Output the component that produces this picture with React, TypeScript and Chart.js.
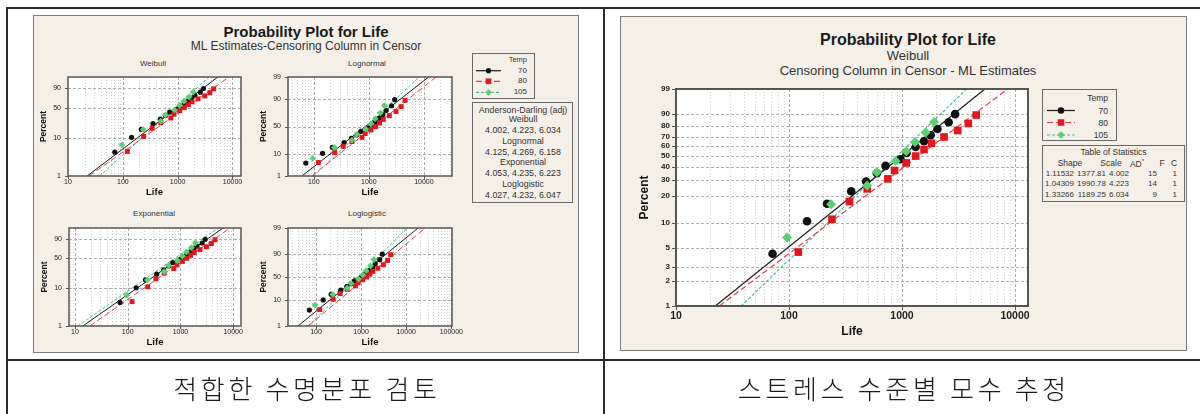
import React, { useEffect, useRef } from 'react';
import { Chart, registerables, LinearScale } from 'chart.js';

Chart.register(...registerables);

// ---------------- data ----------------
const tempLevels = ['70', '80', '105'];

const life70 = [71.5, 144.5, 217, 355, 482, 600, 715, 972, 1100, 1321, 1567, 1796, 2061, 2588, 2951];
const pct70 = [4.3, 10.4, 16.5, 22.6, 28.7, 34.8, 40.9, 47.0, 53.0, 59.1, 65.2, 71.3, 77.4, 83.5, 89.6];

const life80 = [121, 240, 343, 492, 750, 859, 1091, 1321, 1567, 1826, 2355, 3118, 3863, 4540];
const pct80 = [4.5, 11.0, 17.5, 24.0, 30.5, 37.0, 43.5, 50.0, 56.5, 63.0, 69.5, 76.0, 82.5, 89.0];

const life105 = [96, 236, 492, 599, 877, 1091, 1303, 1619, 1923];
const pct105 = [6.7, 16.3, 26.0, 35.6, 45.2, 54.8, 64.4, 74.0, 83.7];

// fitted lines: life at the 1% and the 99% end of each fit
const fitPct = [1, 99];
const weibullFit70 = [22.3, 5420];
const weibullFit80 = [24.2, 8610];
const weibullFit105 = [37.7, 3740];
const lognormFit70 = [61, 12200];
const lognormFit80 = [92, 16600];
const lognormFit105 = [99, 8200];
const expoFit70 = [14.1, 6450];
const expoFit80 = [19.1, 8750];
const expoFit105 = [11.3, 5200];
const loglogFit70 = [40, 18300];
const loglogFit80 = [67, 26500];
const loglogFit105 = [68, 10600];

// tick labels
const lifeTicks = [10, 100, 1000, 10000];
const lifeTicksLognorm = [100, 1000, 10000];
const lifeTicksLoglog = [100, 1000, 10000, 100000];
const pctTicksSmall = [1, 10, 50, 90];
const pctTicksSmall99 = [1, 10, 50, 90, 99];
const pctTicksLarge = [1, 2, 3, 5, 10, 20, 30, 40, 50, 60, 70, 80, 90, 99];

// Anderson-Darling box
const adDistributions = ['Weibull', 'Lognormal', 'Exponential', 'Loglogistic'];
const adValues = ['4.002, 4.223, 6.034', '4.125, 4.269, 6.158', '4.053, 4.235, 6.223', '4.027, 4.232, 6.047'];

// Table of statistics
const statShape = ['1.11532', '1.04309', '1.33266'];
const statScale = ['1377.81', '1990.78', '1189.25'];
const statAD = ['4.002', '4.223', '6.034'];
const statF = ['15', '14', '9'];
const statC = ['1', '1', '1'];

const captionLeft = '적합한 수명분포 검토';
const captionRight = '스트레스 수준별 모수 추정';

// ---------------- styling ----------------
const FONT = '"Liberation Sans", Arial, sans-serif';
const PANEL_BG = '#f4f0e8';

const series = [
  { label: tempLevels[0], life: life70, pct: pct70, color: '#111111', lineColor: '#1a1a1a', shape: 'circle', dash: [] as number[] },
  { label: tempLevels[1], life: life80, pct: pct80, color: '#e3161e', lineColor: '#e0414a', shape: 'rect', dash: [6, 3] },
  { label: tempLevels[2], life: life105, pct: pct105, color: '#5ccf70', lineColor: '#43c08c', shape: 'rectRot', dash: [3, 2] },
];

Chart.defaults.font.family = FONT;

// ---------------- probability scales ----------------
function normInv(p: number): number {
  const a = [-3.969683028665376e1, 2.209460984245205e2, -2.759285104469687e2, 1.38357751867269e2, -3.066479806614716e1, 2.506628277459239];
  const b = [-5.447609879822406e1, 1.615858368580409e2, -1.556989798598866e2, 6.680131188771972e1, -1.328068155288572e1];
  const c = [-7.784894002430293e-3, -3.223964580411365e-1, -2.400758277161838, -2.549732539343734, 4.374664141464968, 2.938163982698783];
  const d = [7.784695709041462e-3, 3.224671290700398e-1, 2.445134137142996, 3.754408661907416];
  const pl = 0.02425;
  if (p < pl) {
    const q = Math.sqrt(-2 * Math.log(p));
    return (((((c[0] * q + c[1]) * q + c[2]) * q + c[3]) * q + c[4]) * q + c[5]) / ((((d[0] * q + d[1]) * q + d[2]) * q + d[3]) * q + 1);
  }
  if (p > 1 - pl) {
    const q = Math.sqrt(-2 * Math.log(1 - p));
    return -(((((c[0] * q + c[1]) * q + c[2]) * q + c[3]) * q + c[4]) * q + c[5]) / ((((d[0] * q + d[1]) * q + d[2]) * q + d[3]) * q + 1);
  }
  const q = p - 0.5;
  const r = q * q;
  return ((((((a[0] * r + a[1]) * r + a[2]) * r + a[3]) * r + a[4]) * r + a[5]) * q) / (((((b[0] * r + b[1]) * r + b[2]) * r + b[3]) * r + b[4]) * r + 1);
}

function makeProbScale(id: string, f: (p: number) => number) {
  class ProbScale extends LinearScale {
    configure() {
      super.configure();
      (this as any)._f0 = f(this.min);
      (this as any)._f1 = f(this.max);
    }
    getPixelForValue(v: any) {
      if (v === null || v === undefined || isNaN(v)) return NaN;
      const s = this as any;
      return this.getPixelForDecimal((f(v) - s._f0) / (s._f1 - s._f0));
    }
    getValueForPixel(px: number) {
      const s = this as any;
      const target = s._f0 + this.getDecimalForPixel(px) * (s._f1 - s._f0);
      let lo = 1e-9;
      let hi = 100 - 1e-9;
      for (let i = 0; i < 60; i++) {
        const m = (lo + hi) / 2;
        if (f(m) < target) lo = m;
        else hi = m;
      }
      return (lo + hi) / 2;
    }
  }
  (ProbScale as any).id = id;
  (ProbScale as any).defaults = {};
  return ProbScale;
}

Chart.register(
  makeProbScale('weibullProb', (p) => Math.log(-Math.log(1 - p / 100))),
  makeProbScale('normalProb', (p) => normInv(p / 100)),
  makeProbScale('logisticProb', (p) => Math.log(p / (100 - p)))
);

// grid, frame and tick marks of a Minitab-like plot
const probFrame = {
  id: 'probFrame',
  beforeDatasetsDraw(chart: any, _args: any, o: any) {
    const { ctx, chartArea: a } = chart;
    const xs = chart.scales.x;
    const ys = chart.scales.y;
    ctx.save();
    ctx.fillStyle = '#ffffff';
    ctx.fillRect(a.left, a.top, a.right - a.left, a.bottom - a.top);
    ctx.lineWidth = 1;
    const lo = Math.floor(Math.log10(xs.min));
    const hi = Math.ceil(Math.log10(xs.max));
    for (let dd = lo; dd <= hi; dd++) {
      for (let k = 1; k <= 9; k++) {
        const v = k * Math.pow(10, dd);
        if (v <= xs.min * 1.01 || v >= xs.max * 0.99) continue;
        const px = Math.round(xs.getPixelForValue(v)) + 0.5;
        ctx.strokeStyle = k === 1 ? o.majorColor : o.minorColor;
        ctx.setLineDash(k === 1 ? o.majorDash : o.minorDash);
        ctx.beginPath();
        ctx.moveTo(px, a.top);
        ctx.lineTo(px, a.bottom);
        ctx.stroke();
      }
    }
    ctx.strokeStyle = o.hColor;
    ctx.setLineDash(o.hDash);
    ys.ticks.forEach((tk: any) => {
      if (tk.value <= ys.min || tk.value >= ys.max) return;
      const py = Math.round(ys.getPixelForValue(tk.value)) + 0.5;
      ctx.beginPath();
      ctx.moveTo(a.left, py);
      ctx.lineTo(a.right, py);
      ctx.stroke();
    });
    ctx.restore();
  },
  afterDatasetsDraw(chart: any, _args: any, o: any) {
    const { ctx, chartArea: a } = chart;
    const xs = chart.scales.x;
    const ys = chart.scales.y;
    ctx.save();
    ctx.setLineDash([]);
    ctx.strokeStyle = o.border;
    ctx.lineWidth = 1;
    ys.ticks.forEach((tk: any) => {
      const py = Math.round(ys.getPixelForValue(tk.value)) + 0.5;
      ctx.beginPath();
      ctx.moveTo(a.left - o.tickLen, py);
      ctx.lineTo(a.left, py);
      ctx.stroke();
    });
    xs.ticks.forEach((tk: any) => {
      const px = Math.round(xs.getPixelForValue(tk.value)) + 0.5;
      ctx.beginPath();
      ctx.moveTo(px, a.bottom);
      ctx.lineTo(px, a.bottom + o.tickLen);
      ctx.stroke();
    });
    ctx.lineWidth = o.borderW;
    ctx.strokeRect(a.left, a.top, a.right - a.left, a.bottom - a.top);
    ctx.restore();
  },
};

type Spec = {
  dist: string;
  plot: number[];
  canvas: number[];
  xMin: number;
  xMax: number;
  xTicks: number[];
  yTicks: number[];
  fits: number[][];
  xTickFont: any;
  yTickFont: any;
  xTitleFont: any;
  yTitleFont: any;
  xTickPad: number;
  yTickPad: number;
  xTitleY: number;
  yTitleX: number;
  tickLen: number;
  pointR: any;
  lineW: number;
  borderW: number;
};

function buildDatasets(spec: Spec) {
  const pts = [2, 1, 0].map((i) => {
    const s = series[i];
    return {
      label: s.label,
      data: s.life.map((v, k) => ({ x: v, y: s.pct[k] })),
      pointStyle: s.shape,
      pointRadius: spec.pointR[s.shape],
      pointBackgroundColor: s.color,
      pointBorderColor: s.color,
      pointBorderWidth: 0,
      showLine: false,
    };
  });
  const lines = [0, 1, 2].map((i) => {
    const s = series[i];
    const fit = spec.fits[i];
    return {
      label: s.label + ' fit',
      data: fit.map((v, k) => ({ x: v, y: fitPct[k] })),
      showLine: true,
      borderColor: s.lineColor,
      borderWidth: spec.lineW,
      borderDash: s.dash,
      pointRadius: 0,
      fill: false,
    };
  });
  return [...pts, ...lines];
}

function ProbChart({ spec }: { spec: Spec }) {
  const ref = useRef<HTMLCanvasElement | null>(null);
  const [l, t, r, b] = spec.canvas;
  useEffect(() => {
    const [L, T, R, B] = spec.plot;
    const xlh = spec.xTitleFont.size * 1.2;
    const ylh = spec.yTitleFont.size * 1.2;
    const chart = new Chart(ref.current as HTMLCanvasElement, {
      type: 'scatter',
      data: { datasets: buildDatasets(spec) as any },
      plugins: [probFrame],
      options: {
        animation: false,
        responsive: false,
        devicePixelRatio: 1,
        events: [],
        layout: { padding: { left: 0, top: T - t, right: r - R, bottom: 0 } },
        plugins: {
          legend: { display: false },
          tooltip: { enabled: false },
          title: { display: false },
          probFrame: {
            majorColor: '#a9a9a9',
            minorColor: '#cdcdcd',
            majorDash: [3, 2],
            minorDash: [1, 2],
            hColor: '#b0b0b0',
            hDash: [3, 2],
            border: '#555555',
            borderW: spec.borderW,
            tickLen: spec.tickLen,
          },
        } as any,
        scales: {
          x: {
            type: 'logarithmic',
            position: 'bottom',
            min: spec.xMin,
            max: spec.xMax,
            bounds: 'data',
            afterBuildTicks: (s: any) => {
              s.ticks = spec.xTicks.map((v) => ({ value: v }));
            },
            afterFit: (s: any) => {
              s.height = b - B;
            },
            grid: { display: false, drawTicks: false, tickLength: 0 },
            border: { display: false },
            ticks: {
              autoSkip: false,
              maxRotation: 0,
              padding: spec.xTickPad,
              font: spec.xTickFont,
              color: '#222',
              callback: (v: any) => String(v),
            },
            title: {
              display: true,
              text: 'Life',
              font: spec.xTitleFont,
              color: '#111',
              padding: { top: 0, bottom: b - spec.xTitleY - xlh / 2 },
            },
          },
          y: {
            type: spec.dist,
            position: 'left',
            min: 1,
            max: 99,
            bounds: 'data',
            afterBuildTicks: (s: any) => {
              s.ticks = spec.yTicks.map((v) => ({ value: v }));
            },
            afterFit: (s: any) => {
              s.width = L - l;
            },
            grid: { display: false, drawTicks: false, tickLength: 0 },
            border: { display: false },
            ticks: {
              autoSkip: false,
              padding: spec.yTickPad,
              font: spec.yTickFont,
              color: '#222',
              callback: (v: any) => String(v),
            },
            title: {
              display: true,
              text: 'Percent',
              font: spec.yTitleFont,
              color: '#111',
              padding: { top: spec.yTitleX - l - ylh / 2, bottom: 0 },
            },
          } as any,
        },
      } as any,
    });
    return () => chart.destroy();
  }, []);
  return (
    <canvas
      ref={ref}
      width={r - l}
      height={b - t}
      style={{ position: 'absolute', left: l, top: t, width: r - l, height: b - t }}
    />
  );
}

function smallSpec(plot: number[], dist: string, xMin: number, xMax: number, xTicks: number[], yTicks: number[], fits: number[][]): Spec {
  const [L, T, R, B] = plot;
  return {
    dist,
    plot,
    canvas: [L - 40, T - 12, R + 26, B + 24],
    xMin,
    xMax,
    xTicks,
    yTicks,
    fits,
    xTickFont: { size: 7 },
    yTickFont: { size: 7 },
    xTitleFont: { size: 9.5, weight: 'bold' },
    yTitleFont: { size: 8.5, weight: 'bold' },
    xTickPad: 2,
    yTickPad: 7,
    xTitleY: B + 16,
    yTitleX: L - 24,
    tickLen: 3,
    pointR: { circle: 2.6, rect: 3.5, rectRot: 3.4 },
    lineW: 1,
    borderW: 1.5,
  };
}

const smallCharts = [
  { title: 'Weibull', tx: 153, ty: 64, spec: smallSpec([68, 77, 241, 176], 'weibullProb', 10, 14300, lifeTicks, pctTicksSmall, [weibullFit70, weibullFit80, weibullFit105]) },
  { title: 'Lognormal', tx: 367, ty: 64, spec: smallSpec([288, 77, 452, 176], 'normalProb', 34, 32400, lifeTicksLognorm, pctTicksSmall99, [lognormFit70, lognormFit80, lognormFit105]) },
  { title: 'Exponential', tx: 154, ty: 214, spec: smallSpec([69, 228, 241, 326], 'weibullProb', 7.7, 14100, lifeTicks, pctTicksSmall, [expoFit70, expoFit80, expoFit105]) },
  { title: 'Loglogistic', tx: 367, ty: 214, spec: smallSpec([288, 228, 452, 326], 'logisticProb', 24, 103500, lifeTicksLoglog, pctTicksSmall99, [loglogFit70, loglogFit80, loglogFit105]) },
];

const bigSpec: Spec = {
  dist: 'weibullProb',
  plot: [676, 89, 1028, 306],
  canvas: [628, 78, 1050, 342],
  xMin: 10,
  xMax: 13040,
  xTicks: lifeTicks,
  yTicks: pctTicksLarge,
  fits: [weibullFit70, weibullFit80, weibullFit105],
  xTickFont: { size: 10.5, weight: 'bold' },
  yTickFont: { size: 8, weight: 'bold' },
  xTitleFont: { size: 12, weight: 'bold' },
  yTitleFont: { size: 12, weight: 'bold' },
  xTickPad: 4,
  yTickPad: 6,
  xTitleY: 332,
  yTitleX: 645,
  tickLen: 4,
  pointR: { circle: 4.3, rect: 5.4, rectRot: 5 },
  lineW: 1.2,
  borderW: 2,
};

// ---------------- HTML helpers ----------------
function Txt(props: any) {
  const { x, y, children, size, bold, align = 'center', color = '#222', family = FONT, style = {} } = props;
  const tx = align === 'center' ? '-50%' : align === 'right' ? '-100%' : '0';
  return (
    <div
      style={{
        position: 'absolute',
        left: x,
        top: y,
        transform: `translate(${tx},-50%)`,
        whiteSpace: 'nowrap',
        fontSize: size,
        fontWeight: bold ? 700 : 400,
        color,
        fontFamily: family,
        lineHeight: 1,
        ...style,
      }}
    >
      {children}
    </div>
  );
}

function Box({ x0, y0, x1, y1, border = '1.5px solid #6a6a6a', bg = 'transparent' }: any) {
  return (
    <div
      style={{
        position: 'absolute',
        left: x0,
        top: y0,
        width: x1 - x0,
        height: y1 - y0,
        border,
        background: bg,
        boxSizing: 'border-box',
      }}
    />
  );
}

function Marker({ shape, x, y, r, color }: any) {
  if (shape === 'circle') return <circle cx={x} cy={y} r={r} fill={color} />;
  if (shape === 'rect') {
    const h = r * Math.SQRT1_2;
    return <rect x={x - h} y={y - h} width={2 * h} height={2 * h} fill={color} />;
  }
  return <polygon points={`${x},${y - r} ${x + r},${y} ${x},${y + r} ${x - r},${y}`} fill={color} />;
}

function LegendRows({ x0, x1, rows, r }: any) {
  return (
    <>
      {series.map((s, i) => (
        <g key={s.label}>
          <line x1={x0} x2={x1} y1={rows[i]} y2={rows[i]} stroke={s.lineColor} strokeWidth={1.2} strokeDasharray={s.dash.length ? s.dash.join(',') : undefined} />
          <Marker shape={s.shape} x={(x0 + x1) / 2} y={rows[i]} r={r[s.shape]} color={s.color} />
        </g>
      ))}
    </>
  );
}

export default function App() {
  const leftRows = [70.7, 81.3, 92.3];
  const rightRows = [110.5, 122.5, 135];
  const adLines: { text: string; y: number }[] = [];
  adDistributions.forEach((name, i) => {
    adLines.push({ text: name, y: 119 + i * 21.5 });
    adLines.push({ text: adValues[i], y: 130 + i * 21.5 });
  });
  const statRows = [173.5, 184.3, 195];
  const cjk = '"Noto Sans CJK KR", sans-serif';

  return (
    <div style={{ position: 'absolute', left: 0, top: 0, width: 1200, height: 414, background: '#ffffff', overflow: 'hidden' }}>
      {/* table lines */}
      <div style={{ position: 'absolute', left: 6, top: 7, width: 1194, height: 2, background: '#2a2a2a' }} />
      <div style={{ position: 'absolute', left: 6, top: 7, width: 1.5, height: 407, background: '#2a2a2a' }} />
      <div style={{ position: 'absolute', left: 603, top: 7, width: 1.5, height: 407, background: '#2a2a2a' }} />
      <div style={{ position: 'absolute', left: 6, top: 358.5, width: 1194, height: 2, background: '#2a2a2a' }} />

      {/* panels */}
      <Box x0={33} y0={15} x1={579} y1={353} bg={PANEL_BG} border="1.5px solid #7c7c7c" />
      <Box x0={620} y0={16} x1={1187} y1={351} bg={PANEL_BG} border="1.5px solid #7c7c7c" />

      {/* left panel texts */}
      <Txt x={306} y={31} size={15} bold color="#1a1a1a">Probability Plot for Life</Txt>
      <Txt x={306} y={46} size={12} color="#333">ML Estimates-Censoring Column in Censor</Txt>
      {smallCharts.map((c) => (
        <Txt key={c.title} x={c.tx} y={c.ty} size={8} color="#333">{c.title}</Txt>
      ))}

      {/* left legend */}
      <Box x0={472} y0={53} x1={535} y1={99} />
      <Txt x={527} y={60} size={7.5} align="right" color="#333">Temp</Txt>
      {series.map((s, i) => (
        <Txt key={s.label} x={527} y={leftRows[i]} size={8} align="right" color="#333">{s.label}</Txt>
      ))}

      {/* Anderson-Darling box */}
      <Box x0={472} y0={102} x1={573} y1={203} />
      <Txt x={523} y={109.5} size={8.8} color="#333">Anderson-Darling (adj)</Txt>
      {adLines.map((ln, i) => (
        <Txt key={i} x={523} y={ln.y} size={8.8} color="#333">{ln.text}</Txt>
      ))}

      {/* right panel texts */}
      <Txt x={908} y={40} size={16} bold color="#1a1a1a">Probability Plot for Life</Txt>
      <Txt x={908} y={55} size={13} color="#333">Weibull</Txt>
      <Txt x={908} y={70} size={13} color="#333">Censoring Column in Censor - ML Estimates</Txt>

      {/* right legend */}
      <Box x0={1042} y0={89} x1={1117} y1={141} />
      <Txt x={1108} y={98} size={8.5} align="right" color="#333">Temp</Txt>
      {series.map((s, i) => (
        <Txt key={s.label} x={1108} y={rightRows[i]} size={8.5} align="right" color="#333">{s.label}</Txt>
      ))}

      {/* table of statistics */}
      <Box x0={1042} y0={145} x1={1185} y1={202} />
      <Txt x={1113.5} y={152} size={8.5} color="#333">Table of Statistics</Txt>
      <Txt x={1070} y={163} size={8.5} color="#333">Shape</Txt>
      <Txt x={1111} y={163} size={8.5} color="#333">Scale</Txt>
      <Txt x={1137} y={163} size={8.5} color="#333">AD<sup style={{ fontSize: 6 }}>*</sup></Txt>
      <Txt x={1162} y={163} size={8.5} color="#333">F</Txt>
      <Txt x={1174} y={163} size={8.5} color="#333">C</Txt>
      {statRows.map((y, i) => (
        <React.Fragment key={i}>
          <Txt x={1074} y={y} size={8} align="right" color="#333">{statShape[i]}</Txt>
          <Txt x={1106} y={y} size={8} align="right" color="#333">{statScale[i]}</Txt>
          <Txt x={1129} y={y} size={8} align="right" color="#333">{statAD[i]}</Txt>
          <Txt x={1157} y={y} size={8} align="right" color="#333">{statF[i]}</Txt>
          <Txt x={1177} y={y} size={8} align="right" color="#333">{statC[i]}</Txt>
        </React.Fragment>
      ))}

      {/* charts */}
      {smallCharts.map((c) => (
        <ProbChart key={c.title} spec={c.spec} />
      ))}
      <ProbChart spec={bigSpec} />

      {/* legend samples */}
      <svg width={1200} height={414} style={{ position: 'absolute', left: 0, top: 0, pointerEvents: 'none' }}>
        <LegendRows x0={476} x1={501} rows={leftRows} r={{ circle: 2.6, rect: 4, rectRot: 3.4 }} />
        <LegendRows x0={1047} x1={1075} rows={rightRows} r={{ circle: 3.3, rect: 4.6, rectRot: 3.8 }} />
      </svg>

      {/* captions */}
      <Txt x={305 + 1.9} y={388} size={26} color="#1a1a1a" family={cjk} style={{ letterSpacing: 3.7, fontWeight: 300 }}>{captionLeft}</Txt>
      <Txt x={902 + 1.9} y={388} size={26} color="#1a1a1a" family={cjk} style={{ letterSpacing: 3.7, fontWeight: 300 }}>{captionRight}</Txt>
    </div>
  );
}
